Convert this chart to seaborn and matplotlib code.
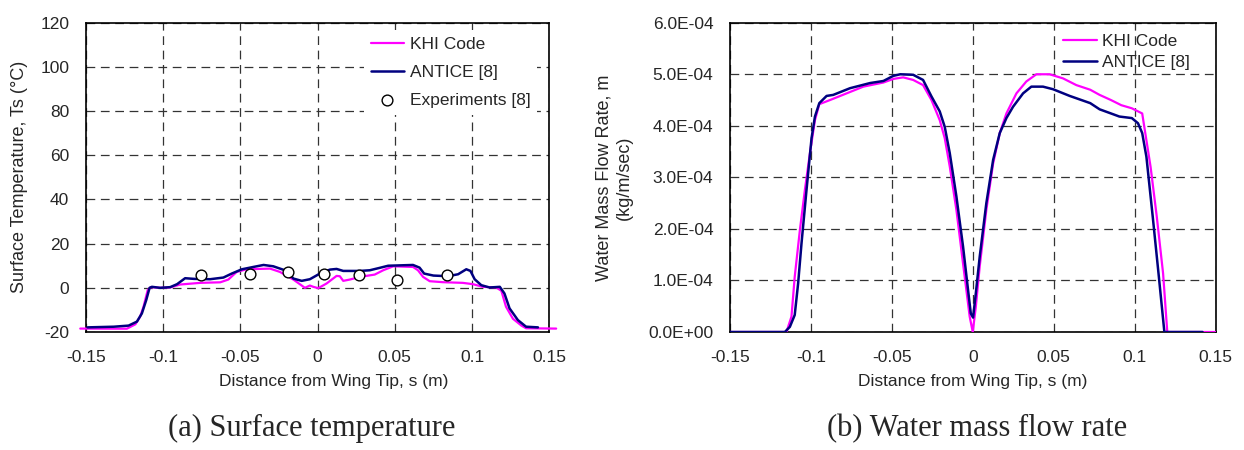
import numpy as np
import pandas as pd
import matplotlib
matplotlib.use("Agg")
import matplotlib.pyplot as plt
import seaborn as sns

# ---------------- data ----------------
# (a) Surface temperature [deg C] vs distance from wing tip [m]
khi_t_x = [-0.1537, -0.1235, -0.118, -0.1149, -0.1127, -0.110, -0.108, -0.102, -0.0955, -0.089,
           -0.076, -0.063, -0.0578, -0.0524, -0.0459, -0.0308, -0.0244, -0.0157, -0.0082, -0.005,
           -0.0028, 0.0004, 0.0058, 0.0123, 0.0144, 0.0166, 0.0209, 0.0274, 0.037, 0.0425,
           0.049, 0.0618, 0.065, 0.0683, 0.0726, 0.0812, 0.094, 0.1006, 0.107, 0.1157,
           0.119, 0.122, 0.1265, 0.132, 0.135, 0.1545]
khi_t_y = [-18.45, -18.5, -16.5, -13.0, -8.5, -1.0, 0.3, 0.0, 0.15, 1.5,
           2.25, 2.5, 3.75, 7.2, 8.4, 8.7, 7.2, 3.75, 0.0, 1.05,
           0.45, -0.15, 1.95, 5.4, 5.25, 3.15, 3.75, 4.95, 6.0, 7.95,
           9.75, 9.45, 7.95, 4.95, 3.0, 2.55, 2.25, 1.65, 0.45, 0.15,
           -1.35, -8.55, -14.0, -17.1, -18.3, -18.45]

antice_t_x = [-0.149, -0.132, -0.1224, -0.117, -0.1138, -0.111, -0.1088, -0.1073, -0.102, -0.0955,
              -0.091, -0.0858, -0.080, -0.0696, -0.061, -0.0556, -0.049, -0.0416, -0.035, -0.0287,
              -0.020, -0.0157, -0.0103, -0.005, 0.0015, 0.008, 0.0123, 0.0166, 0.0274, 0.0338,
              0.040, 0.0457, 0.0618, 0.066, 0.069, 0.075, 0.0845, 0.091, 0.0963, 0.099,
              0.1017, 0.106, 0.1114, 0.118, 0.121, 0.1243, 0.1297, 0.135, 0.1427]
antice_t_y = [-17.9, -17.6, -17.1, -15.3, -11.6, -5.6, 0.0, 0.45, 0.0, 0.3,
              1.65, 4.35, 4.05, 3.9, 4.65, 6.45, 8.4, 9.45, 10.35, 9.75,
              7.65, 4.2, 3.15, 3.9, 6.45, 8.25, 8.55, 7.65, 7.65, 7.95,
              9.0, 10.0, 10.35, 9.15, 6.45, 5.55, 5.25, 6.15, 8.4, 7.65,
              3.9, 1.2, 0.15, 0.45, -2.55, -9.3, -14.6, -17.6, -17.9]

exp_x = [-0.0754, -0.044, -0.019, 0.0041, 0.0269, 0.0517, 0.084]
exp_y = [5.7, 6.3, 7.2, 6.3, 5.7, 3.75, 5.7]

# (b) Water mass flow rate, values in units of 1e-4 kg/m/sec
khi_m_x = [-0.15, -0.1151, -0.112, -0.110, -0.1068, -0.1037, -0.1006, -0.0975, -0.0948, -0.0882,
           -0.0779, -0.0676, -0.0552, -0.049, -0.043, -0.0368, -0.0307, -0.0255, -0.0204, -0.0173,
           -0.0142, -0.0101, -0.006, -0.0019, 0.0, 0.0019, 0.0043, 0.0084, 0.0126, 0.0167,
           0.0208, 0.027, 0.0331, 0.0393, 0.0475, 0.0558, 0.064, 0.0726, 0.0784, 0.0854,
           0.0918, 0.0983, 0.1047, 0.1060, 0.1099, 0.1137, 0.1176, 0.1202, 0.15]
khi_m_y = [0, 0, 0.30, 1.07, 1.98, 2.76, 3.47, 4.11, 4.42, 4.50,
           4.63, 4.76, 4.84, 4.91, 4.94, 4.89, 4.79, 4.50, 4.11, 3.76,
           3.21, 2.37, 1.33, 0.30, 0.0, 0.49, 1.27, 2.37, 3.27, 3.86,
           4.24, 4.63, 4.86, 5.0, 5.0, 4.92, 4.79, 4.70, 4.60, 4.50,
           4.40, 4.34, 4.24, 3.98, 3.2, 2.24, 1.14, 0.0, 0.0]

antice_m_x = [-0.15, -0.1161, -0.113, -0.110, -0.1079, -0.1058, -0.1027, -0.0996, -0.0975, -0.0948,
              -0.0903, -0.0862, -0.0758, -0.0634, -0.0552, -0.049, -0.0448, -0.0368, -0.0307, -0.0255,
              -0.0204, -0.0173, -0.0142, -0.0101, -0.006, -0.0029, -0.0012, 0.0002, 0.0019, 0.0043,
              0.0084, 0.0126, 0.0167, 0.0208, 0.0249, 0.0311, 0.0362, 0.0434, 0.0496, 0.0599,
              0.0726, 0.0784, 0.0854, 0.0906, 0.0983, 0.1021, 0.1047, 0.1073, 0.1112, 0.115,
              0.1184, 0.142]
antice_m_y = [0, 0, 0.10, 0.33, 0.94, 1.72, 2.76, 3.76, 4.18, 4.44,
              4.58, 4.60, 4.73, 4.83, 4.87, 4.97, 5.0, 4.99, 4.89, 4.57,
              4.28, 3.98, 3.47, 2.63, 1.66, 0.815, 0.36, 0.28, 0.75, 1.46,
              2.50, 3.34, 3.86, 4.15, 4.37, 4.63, 4.76, 4.76, 4.71, 4.58,
              4.44, 4.32, 4.24, 4.18, 4.15, 4.05, 3.86, 3.40, 2.24, 1.07,
              0.0, 0.0]
MASS_UNIT = 1e-4

x_ticks = [-0.15, -0.1, -0.05, 0, 0.05, 0.1, 0.15]
x_tick_labels = ["-0.15", "-0.1", "-0.05", "0", "0.05", "0.1", "0.15"]
t_ticks = [-20, 0, 20, 40, 60, 80, 100, 120]
m_ticks = [0, 1e-4, 2e-4, 3e-4, 4e-4, 5e-4, 6e-4]

# ---------------- style ----------------
sns.set_style("white")
plt.rcParams["font.family"] = ["Liberation Sans", "DejaVu Sans"]
MAGENTA = "#ff00ff"
NAVY = "#000080"
FS = 12.5

fig = plt.figure(figsize=(12.44, 4.5), dpi=100)
ax1 = fig.add_axes([0.0691, 0.2622, 0.3724, 0.6873])
ax2 = fig.add_axes([0.5868, 0.2622, 0.3903, 0.6873])

# ---------------- (a) ----------------
sns.lineplot(x=khi_t_x, y=khi_t_y, ax=ax1, color=MAGENTA, lw=1.6, sort=False,
             estimator=None, label="KHI Code", clip_on=False, zorder=3)
sns.lineplot(x=antice_t_x, y=antice_t_y, ax=ax1, color=NAVY, lw=1.8, sort=False,
             estimator=None, label="ANTICE [8]", zorder=4)
sns.scatterplot(x=exp_x, y=exp_y, ax=ax1, marker="o", s=60, facecolor="white",
                edgecolor="black", linewidth=1.0, label="Experiments [8]", zorder=5)

ax1.set_xlim(-0.15, 0.15)
ax1.set_ylim(-20, 120)
ax1.set_yticks(t_ticks)
ax1.set_yticklabels([str(t) for t in t_ticks])
ax1.set_ylabel("Surface Temperature, Ts (\u00b0C)", fontsize=13, va="center")
ax1.yaxis.set_label_coords(-0.1425, 0.5)
ax1.set_xlabel("Distance from Wing Tip, s (m)", fontsize=FS, va="center")
ax1.xaxis.set_label_coords(0.535, -0.161)
ax1.legend(loc="upper left", bbox_to_anchor=(0.600, 0.978), frameon=True,
           facecolor="white", edgecolor="none", framealpha=1, fancybox=False,
           fontsize=FS, handlelength=1.9, handletextpad=0.33, labelspacing=0.74,
           borderpad=0.4, borderaxespad=0)

# ---------------- (b) ----------------
sns.lineplot(x=khi_m_x, y=np.array(khi_m_y) * MASS_UNIT, ax=ax2, color=MAGENTA, lw=1.6,
             sort=False, estimator=None, label="KHI Code", zorder=3)
sns.lineplot(x=antice_m_x, y=np.array(antice_m_y) * MASS_UNIT, ax=ax2, color=NAVY, lw=1.8,
             sort=False, estimator=None, label="ANTICE [8]", zorder=4)
ax2.set_xlim(-0.15, 0.15)
ax2.set_ylim(0, 6e-4)
ax2.set_yticks(m_ticks)
ax2.set_yticklabels([f"{v:.1E}" for v in m_ticks])
ax2.set_ylabel("Water Mass Flow Rate, m\n(kg/m/sec)", fontsize=13, va="center",
               linespacing=1.25)
ax2.yaxis.set_label_coords(-0.239, 0.5)
ax2.set_xlabel("Distance from Wing Tip, s (m)", fontsize=FS, va="center")
ax2.xaxis.set_label_coords(0.5, -0.161)
ax2.legend(loc="upper left", bbox_to_anchor=(0.672, 0.986), frameon=False,
           fontsize=FS, handlelength=1.92, handletextpad=0.3, labelspacing=0.33,
           borderpad=0.4, borderaxespad=0)

for ax in (ax1, ax2):
    ax.set_xticks(x_ticks)
    ax.set_xticklabels(x_tick_labels)
    ax.grid(True, color="#333333", lw=0.9, linestyle=(0, (7, 4.5)))
    ax.set_axisbelow(True)
    ax.tick_params(axis="x", length=0, pad=13, labelsize=FS)
    ax.tick_params(axis="y", length=0, pad=12, labelsize=FS)
    for sp in ax.spines.values():
        sp.set_visible(True)
        sp.set_color("black")
        sp.set_linewidth(1.2)

fig.text(311.7 / 1244, 1 - 428.8 / 450, "(a) Surface temperature", ha="center", va="center",
         family=["Liberation Serif", "DejaVu Serif"], fontsize=22)
fig.text(977 / 1244, 1 - 428.8 / 450, "(b) Water mass flow rate", ha="center", va="center",
         family=["Liberation Serif", "DejaVu Serif"], fontsize=22)

fig.savefig("out.png", dpi=100)
